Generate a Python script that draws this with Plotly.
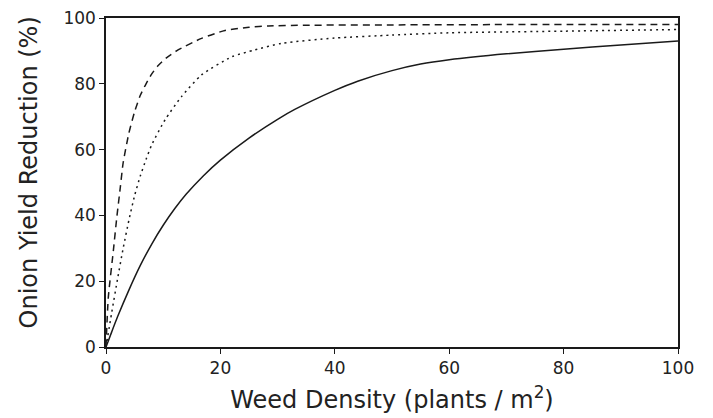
import plotly.graph_objects as go

# Weed density (plants / m^2) and yield reduction (%)
solid_x = [0, 1, 2, 4, 6, 8, 10, 12, 14, 17, 20, 25, 30, 33, 40, 44, 50, 55, 60, 70, 80, 90, 100]
solid_y = [0, 4.6, 9.1, 17.3, 24.8, 31.3, 37, 42, 46.4, 52, 56.8, 63.5, 69.2, 72.2, 78, 80.8, 84, 86, 87.3, 89.1, 90.5, 91.8, 93]

dashed_x = [0, 0.4, 1.3, 1.9, 2.5, 3, 4, 5, 6, 7, 8, 9, 10.5, 12.6, 16.7, 20.8, 25, 28.4, 35, 50, 70, 100]
dashed_y = [0, 15, 29.5, 39.6, 48.5, 56, 65, 71.5, 76.5, 80, 83, 85.3, 87.8, 90.3, 93.8, 96.2, 97.2, 97.6, 97.8, 97.9, 98, 98]

dotted_x = [0, 1, 2, 3, 4, 5, 6, 7, 8, 10.3, 13.2, 16.7, 22, 26, 30.7, 40, 50, 60, 80, 100]
dotted_y = [0, 10.5, 20.5, 30, 38.5, 46, 52, 57, 61.5, 69, 76.1, 82.7, 88.2, 90.3, 92.3, 93.9, 94.8, 95.5, 96, 96.5]

x_ticks = [0, 20, 40, 60, 80, 100]
y_ticks = [0, 20, 40, 60, 80, 100]

line_col = "#1a1a1a"
font_family = "DejaVu Sans, Verdana, sans-serif"

fig = go.Figure()
fig.add_trace(go.Scatter(x=solid_x, y=solid_y, mode="lines",
                         line=dict(color=line_col, width=1.5, shape="spline", smoothing=0.6)))
fig.add_trace(go.Scatter(x=dashed_x, y=dashed_y, mode="lines",
                         line=dict(color=line_col, width=1.5, dash="7px,5px", shape="spline", smoothing=0.6)))
fig.add_trace(go.Scatter(x=dotted_x, y=dotted_y, mode="lines",
                         line=dict(color=line_col, width=1.5, dash="2px,4px", shape="spline", smoothing=0.6)))

axis_common = dict(
    showgrid=False, zeroline=False, showline=True, linecolor=line_col, linewidth=1.5,
    mirror=True, ticks="outside", ticklen=5, tickwidth=1.2, tickcolor=line_col,
    ticklabeloverflow="allow",
    tickfont=dict(family=font_family, size=17, color="#222"),
)

fig.update_layout(
    width=713, height=418,
    margin=dict(l=98, r=43, t=10, b=79, autoexpand=False),
    paper_bgcolor="white", plot_bgcolor="white",
    showlegend=False,
    xaxis=dict(range=[0, 100], tickvals=x_ticks, automargin=False,
               title=dict(text="Weed Density (plants / m<sup>2</sup>)",
                          font=dict(family=font_family, size=24, color="#222"),
                          standoff=14),
               **axis_common),
    yaxis=dict(range=[0, 100], tickvals=y_ticks, automargin=False,
               **axis_common),
    annotations=[dict(text="Onion Yield Reduction (%)", textangle=-90,
                      xref="paper", yref="paper", x=-0.135, y=0.53,
                      xanchor="center", yanchor="middle", showarrow=False,
                      font=dict(family=font_family, size=24, color="#222"))],
)

fig.write_html("out.html")
